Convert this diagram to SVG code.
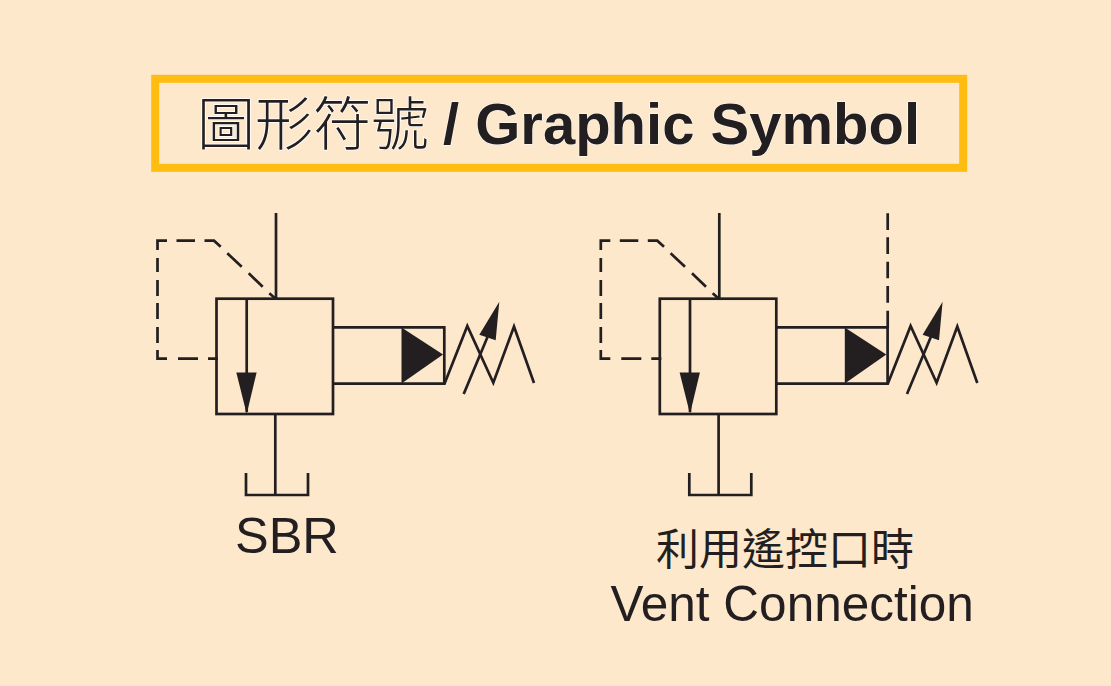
<svg xmlns="http://www.w3.org/2000/svg" width="1111" height="686" viewBox="0 0 1111 686">
<style>
.l{fill:none;stroke:#231f20;stroke-width:2.7}
.f{fill:#231f20;stroke:none}
.t{fill:#231f20;font-family:"Liberation Sans",Arial,"Noto Sans CJK TC",sans-serif}
.c{fill:#231f20;font-family:"Noto Sans CJK TC","Liberation Sans",sans-serif}
</style>
<defs>
<g id="valve">
<path class="l" d="M167 240.7H157.5V250M157.5 258V272M157.5 280V296M157.5 303V319M157.5 327V343M157.5 350V358.7H167M178 358.7H198M208 358.7H218"/>
<path class="l" d="M176.5 240.7H195M204.5 240.7H214L220.7 246.7M227.3 253.3L241.7 266.7M248.7 273.3L262.7 286.7M269.3 293.3L276 299"/>
<path class="l" d="M276 213V299"/>
<rect class="l" x="216.5" y="298.7" width="116.5" height="115.3"/>
<path class="l" d="M246.7 299V412"/>
<path class="f" d="M236.3 372.5H256.6L246.7 414Z"/>
<path class="l" d="M333 327.3H444.3V383.7H333"/>
<path class="f" d="M401.5 327.5L443 354.5L401.5 383.5Z"/>
<path class="l" d="M444.5 383.7L467.3 326L493.3 382.7L514 326.5L534 383"/>
<path class="l" d="M463.7 394L487.5 337"/>
<path class="f" d="M499.3 301.7L495.7 340.3L479.3 334.7Z"/>
<path class="l" d="M275.3 414V495"/>
<path class="l" d="M246 473V495H308V473"/>
</g>
</defs>
<rect id="background" width="1111" height="686" fill="#fde8cc"/>
<g id="title">
<rect x="155.2" y="78.8" width="808" height="89" fill="none" stroke="#ffbc11" stroke-width="8"/>
<text class="c" x="197" y="145" font-size="58" font-weight="300" stroke="#fff" stroke-width="1.5" paint-order="stroke">圖形符號</text>
<text class="t" x="443" y="144" font-size="58" font-weight="700" stroke="#fff" stroke-width="1" paint-order="stroke">/ Graphic Symbol</text>
</g>
<g id="connectors">
<path class="l" d="M887.7 213.3V230M887.7 237.3V254M887.7 261.7V278.3M887.7 286V302.7M887.7 310.7V327.7"/>
</g>
<g id="sbr-valve"><use href="#valve"/></g>
<g id="vent-valve"><use href="#valve" x="443.3"/></g>
<g id="labels">
<text id="label-sbr" class="t" x="235" y="553" font-size="50.5">SBR</text>
<text id="label-vent-zh" class="c" x="656" y="565" font-size="43">利用遙控口時</text>
<text id="label-vent-en" class="t" x="610.5" y="621" font-size="49.5">Vent Connection</text>
</g>
</svg>
